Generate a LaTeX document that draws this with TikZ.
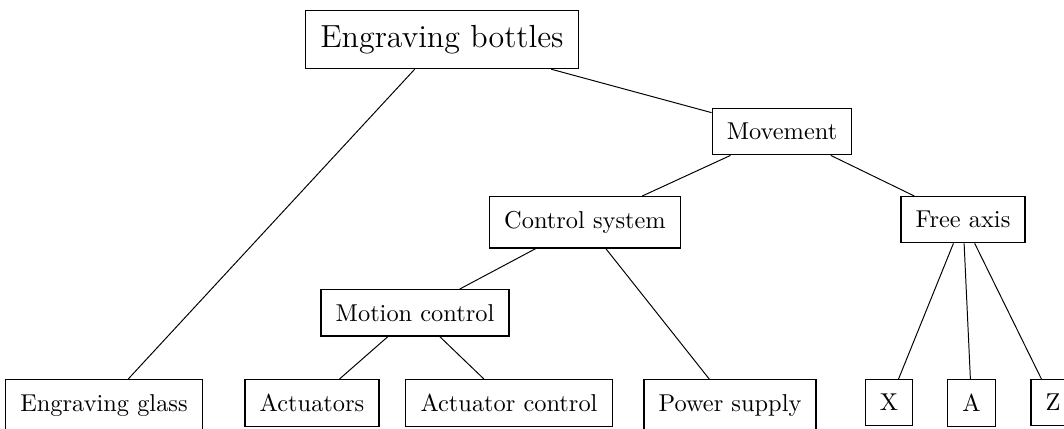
\documentclass[tikz,border=0pt]{standalone}
\begin{document}
\begin{tikzpicture}[x=0.41pt,y=-0.41pt,
  box/.style={draw,inner xsep=6pt,inner ysep=6pt,anchor=north,line width=0.5pt},
  big/.style={font=\fontsize{13.1}{16}\selectfont}]
\useasboundingbox (0,0) rectangle (1064,428);
\node[box,big] (eb) at (442,10) {Engraving bottles};
\node[box] (mv) at (782,108) {Movement};
\node[box] (cs) at (585,196) {Control system};
\node[box] (fa) at (963,196) {Free axis};
\node[box] (mc) at (415,289) {Motion control};
\node[box] (eg) at (104,379) {Engraving glass};
\node[box] (ac) at (312,379) {Actuators};
\node[box] (actc) at (509,379) {Actuator control};
\node[box] (ps) at (730,379) {Power supply};
\node[box] (x) at (889,379) {X};
\node[box] (a) at (971.5,379) {A};
\node[box] (z) at (1053,379) {Z};
\draw (eb) -- (eg);
\draw (eb) -- (mv);
\draw (mv) -- (cs);
\draw (mv) -- (fa);
\draw (cs) -- (mc);
\draw (cs) -- (ps);
\draw (mc) -- (ac);
\draw (mc) -- (actc);
\draw (fa) -- (x);
\draw (fa) -- (a);
\draw (fa) -- (z);
\end{tikzpicture}
\end{document}
